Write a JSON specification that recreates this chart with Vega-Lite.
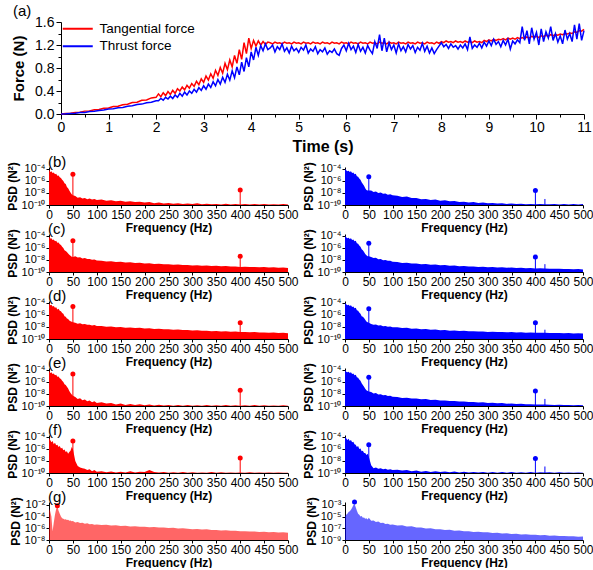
{
"$schema":"https://vega.github.io/schema/vega-lite/v6.json",
"padding":{"left":6,"top":4,"right":0,"bottom":0},
"config":{"view":{"stroke":null},"font":"Liberation Sans",
 "axis":{"grid":false,"domainColor":"#000","tickColor":"#000","labelColor":"#000","titleColor":"#000","labelFont":"Liberation Sans","titleFont":"Liberation Sans","labelFontSize":12,"titleFontSize":12,"titleFontWeight":"bold","tickSize":3,"labelPadding":1,"titlePadding":2,"labelFlush":false,"labelOverlap":false},
 "title":{"font":"Liberation Sans","fontSize":15,"fontWeight":"normal","anchor":"start","frame":"group","color":"#000"}},
"datasets":{
"force":[
{"t":0,"tan":0,"thr":0},{"t":0.1,"tan":0.01,"thr":0.004},{"t":0.2,"tan":0.012,"thr":0.01},{"t":0.3,"tan":0.028,"thr":0.012},{"t":0.4,"tan":0.03,"thr":0.024},{"t":0.5,"tan":0.05,"thr":0.028},{"t":0.6,"tan":0.052,"thr":0.042},{"t":0.7,"tan":0.074,"thr":0.046},{"t":0.8,"tan":0.078,"thr":0.062},{"t":0.9,"tan":0.1,"thr":0.068},{"t":1.0,"tan":0.104,"thr":0.086},{"t":1.1,"tan":0.13,"thr":0.09},{"t":1.2,"tan":0.135,"thr":0.11},{"t":1.3,"tan":0.162,"thr":0.115},{"t":1.4,"tan":0.17,"thr":0.135},{"t":1.5,"tan":0.2,"thr":0.142},{"t":1.6,"tan":0.205,"thr":0.165},{"t":1.7,"tan":0.238,"thr":0.172},{"t":1.8,"tan":0.245,"thr":0.196},{"t":1.9,"tan":0.28,"thr":0.205},{"t":2.0,"tan":0.29,"thr":0.23},
{"t":2.05,"tan":0.35,"thr":0.23},{"t":2.1,"tan":0.3,"thr":0.27},{"t":2.15,"tan":0.37,"thr":0.24},{"t":2.2,"tan":0.32,"thr":0.29},{"t":2.25,"tan":0.39,"thr":0.26},{"t":2.3,"tan":0.34,"thr":0.31},{"t":2.35,"tan":0.41,"thr":0.27},{"t":2.4,"tan":0.36,"thr":0.33},{"t":2.45,"tan":0.44,"thr":0.29},{"t":2.5,"tan":0.4,"thr":0.36},{"t":2.55,"tan":0.47,"thr":0.31},{"t":2.6,"tan":0.42,"thr":0.38},{"t":2.65,"tan":0.5,"thr":0.33},{"t":2.7,"tan":0.45,"thr":0.4},{"t":2.75,"tan":0.53,"thr":0.36},{"t":2.8,"tan":0.48,"thr":0.43},{"t":2.85,"tan":0.57,"thr":0.38},{"t":2.9,"tan":0.51,"thr":0.46},{"t":2.95,"tan":0.61,"thr":0.41},{"t":3.0,"tan":0.55,"thr":0.49},
{"t":3.05,"tan":0.66,"thr":0.43},{"t":3.1,"tan":0.59,"thr":0.52},{"t":3.15,"tan":0.7,"thr":0.46},{"t":3.2,"tan":0.62,"thr":0.56},{"t":3.25,"tan":0.76,"thr":0.49},{"t":3.3,"tan":0.67,"thr":0.6},{"t":3.35,"tan":0.81,"thr":0.52},{"t":3.4,"tan":0.71,"thr":0.64},{"t":3.45,"tan":0.88,"thr":0.55},{"t":3.5,"tan":0.77,"thr":0.69},{"t":3.55,"tan":0.94,"thr":0.59},{"t":3.6,"tan":0.82,"thr":0.75},{"t":3.65,"tan":1.02,"thr":0.63},{"t":3.7,"tan":0.88,"thr":0.82},{"t":3.75,"tan":1.12,"thr":0.68},{"t":3.8,"tan":0.95,"thr":0.9},{"t":3.85,"tan":1.24,"thr":0.74},{"t":3.9,"tan":1.05,"thr":0.98},{"t":3.95,"tan":1.32,"thr":0.82},{"t":4.0,"tan":1.14,"thr":1.08},
{"t":4.05,"tan":1.28,"thr":0.94},{"t":4.1,"tan":1.18,"thr":1.16},{"t":4.15,"tan":1.27,"thr":1.02},{"t":4.2,"tan":1.2,"thr":1.19},{"t":4.25,"tan":1.26,"thr":1.1},{"t":4.3,"tan":1.21,"thr":1.22},{"t":4.35,"tan":1.25,"thr":1.12},
{"t":4.4,"tan":1.24,"thr":1.15},{"t":4.45,"tan":1.22,"thr":1.2},{"t":4.5,"tan":1.25,"thr":1.08},{"t":4.55,"tan":1.23,"thr":1.17},{"t":4.6,"tan":1.24,"thr":1.12},{"t":4.65,"tan":1.22,"thr":1.22},{"t":4.7,"tan":1.25,"thr":1.09},{"t":4.75,"tan":1.23,"thr":1.15},{"t":4.8,"tan":1.24,"thr":1.06},{"t":4.85,"tan":1.22,"thr":1.18},{"t":4.9,"tan":1.25,"thr":1.1},{"t":4.95,"tan":1.23,"thr":1.14},
{"t":5.0,"tan":1.24,"thr":1.07},{"t":5.05,"tan":1.22,"thr":1.16},{"t":5.1,"tan":1.25,"thr":1.11},{"t":5.15,"tan":1.23,"thr":1.2},{"t":5.2,"tan":1.24,"thr":1.06},{"t":5.25,"tan":1.22,"thr":1.13},{"t":5.3,"tan":1.25,"thr":1.09},{"t":5.35,"tan":1.23,"thr":1.17},{"t":5.4,"tan":1.24,"thr":1.05},{"t":5.45,"tan":1.22,"thr":1.12},{"t":5.5,"tan":1.25,"thr":1.08},{"t":5.55,"tan":1.23,"thr":1.15},{"t":5.6,"tan":1.24,"thr":1.04},{"t":5.65,"tan":1.22,"thr":1.1},{"t":5.7,"tan":1.25,"thr":1.07},{"t":5.75,"tan":1.23,"thr":1.13},{"t":5.8,"tan":1.24,"thr":1.05},{"t":5.85,"tan":1.22,"thr":1.02},{"t":5.9,"tan":1.25,"thr":1.14},{"t":5.95,"tan":1.23,"thr":1.2},
{"t":6.0,"tan":1.24,"thr":1.1},{"t":6.05,"tan":1.22,"thr":1.23},{"t":6.1,"tan":1.25,"thr":1.12},{"t":6.15,"tan":1.23,"thr":1.18},{"t":6.2,"tan":1.24,"thr":1.07},{"t":6.25,"tan":1.22,"thr":1.21},{"t":6.3,"tan":1.25,"thr":1.09},{"t":6.35,"tan":1.23,"thr":1.16},{"t":6.4,"tan":1.24,"thr":1.06},{"t":6.45,"tan":1.22,"thr":1.19},{"t":6.5,"tan":1.25,"thr":1.11},{"t":6.55,"tan":1.23,"thr":1.05},{"t":6.6,"tan":1.24,"thr":1.26},{"t":6.65,"tan":1.22,"thr":1.14},{"t":6.7,"tan":1.25,"thr":1.38},{"t":6.75,"tan":1.23,"thr":1.1},{"t":6.8,"tan":1.24,"thr":1.32},{"t":6.85,"tan":1.22,"thr":1.08},{"t":6.9,"tan":1.25,"thr":1.24},{"t":6.95,"tan":1.23,"thr":1.12},
{"t":7.0,"tan":1.24,"thr":1.2},{"t":7.05,"tan":1.22,"thr":1.06},{"t":7.1,"tan":1.25,"thr":1.22},{"t":7.15,"tan":1.23,"thr":1.1},{"t":7.2,"tan":1.24,"thr":1.17},{"t":7.25,"tan":1.22,"thr":1.08},{"t":7.3,"tan":1.25,"thr":1.21},{"t":7.35,"tan":1.23,"thr":1.13},{"t":7.4,"tan":1.24,"thr":1.19},{"t":7.45,"tan":1.22,"thr":1.07},{"t":7.5,"tan":1.25,"thr":1.16},{"t":7.55,"tan":1.23,"thr":1.11},{"t":7.6,"tan":1.24,"thr":1.23},{"t":7.65,"tan":1.22,"thr":1.09},{"t":7.7,"tan":1.25,"thr":1.18},{"t":7.75,"tan":1.23,"thr":1.06},{"t":7.8,"tan":1.24,"thr":1.15},{"t":7.85,"tan":1.22,"thr":1.05},{"t":7.9,"tan":1.25,"thr":1.12},{"t":7.95,"tan":1.23,"thr":1.18},
{"t":8.0,"tan":1.26,"thr":1.24},{"t":8.05,"tan":1.24,"thr":1.17},{"t":8.1,"tan":1.27,"thr":1.21},{"t":8.15,"tan":1.25,"thr":1.14},{"t":8.2,"tan":1.26,"thr":1.22},{"t":8.25,"tan":1.24,"thr":1.16},{"t":8.3,"tan":1.27,"thr":1.19},{"t":8.35,"tan":1.25,"thr":1.13},{"t":8.4,"tan":1.26,"thr":1.2},{"t":8.45,"tan":1.24,"thr":1.15},{"t":8.5,"tan":1.27,"thr":1.22},{"t":8.55,"tan":1.25,"thr":1.12},{"t":8.6,"tan":1.26,"thr":1.34},{"t":8.65,"tan":1.24,"thr":1.14},{"t":8.7,"tan":1.27,"thr":1.2},{"t":8.75,"tan":1.25,"thr":1.16},{"t":8.8,"tan":1.26,"thr":1.23},{"t":8.85,"tan":1.24,"thr":1.15},{"t":8.9,"tan":1.28,"thr":1.25},{"t":8.95,"tan":1.26,"thr":1.18},
{"t":9.0,"tan":1.29,"thr":1.27},{"t":9.05,"tan":1.27,"thr":1.19},{"t":9.1,"tan":1.3,"thr":1.3},{"t":9.15,"tan":1.28,"thr":1.21},{"t":9.2,"tan":1.3,"thr":1.26},{"t":9.25,"tan":1.29,"thr":1.17},{"t":9.3,"tan":1.31,"thr":1.28},{"t":9.35,"tan":1.29,"thr":1.2},{"t":9.4,"tan":1.32,"thr":1.3},{"t":9.45,"tan":1.3,"thr":1.13},{"t":9.5,"tan":1.32,"thr":1.27},{"t":9.55,"tan":1.3,"thr":1.22},{"t":9.6,"tan":1.33,"thr":1.29},{"t":9.65,"tan":1.31,"thr":1.24},{"t":9.7,"tan":1.33,"thr":1.52},{"t":9.75,"tan":1.31,"thr":1.28},{"t":9.8,"tan":1.34,"thr":1.45},{"t":9.85,"tan":1.32,"thr":1.22},{"t":9.9,"tan":1.35,"thr":1.5},{"t":9.95,"tan":1.33,"thr":1.3},
{"t":10.0,"tan":1.35,"thr":1.42},{"t":10.05,"tan":1.33,"thr":1.2},{"t":10.1,"tan":1.36,"thr":1.48},{"t":10.15,"tan":1.35,"thr":1.26},{"t":10.2,"tan":1.37,"thr":1.43},{"t":10.25,"tan":1.35,"thr":1.32},{"t":10.3,"tan":1.38,"thr":1.52},{"t":10.35,"tan":1.36,"thr":1.28},{"t":10.4,"tan":1.38,"thr":1.4},{"t":10.45,"tan":1.37,"thr":1.25},{"t":10.5,"tan":1.39,"thr":1.36},{"t":10.55,"tan":1.38,"thr":1.22},{"t":10.6,"tan":1.4,"thr":1.46},{"t":10.65,"tan":1.39,"thr":1.3},{"t":10.7,"tan":1.41,"thr":1.4},{"t":10.75,"tan":1.4,"thr":1.26},{"t":10.8,"tan":1.43,"thr":1.55},{"t":10.85,"tan":1.42,"thr":1.3},{"t":10.9,"tan":1.45,"thr":1.57},{"t":10.95,"tan":1.44,"thr":1.28},{"t":11.0,"tan":1.47,"thr":1.45}
],
"psd":[
{"f":0,"bL":8e-5,"bR":1e-4,"cL":8e-5,"cR":1e-4,"dL":1e-4,"dR":1e-4,"eL":8e-5,"eR":1e-4,"fL":6e-5,"fR":1e-4,"gL":2e-3,"gR":1e-5},
{"f":2.5,"bL":3e-5,"bR":6e-5,"cL":3.5e-5,"cR":6e-5,"dL":4e-5,"dR":6e-5,"eL":3e-5,"eR":5e-5,"fL":3e-5,"fR":6e-5,"gL":8e-4,"gR":2e-5},
{"f":5,"bL":4e-5,"bR":4e-5,"cL":4e-5,"cR":4e-5,"dL":5e-5,"dR":4e-5,"eL":4e-5,"eR":4e-5,"fL":1.2e-5,"fR":3e-5,"gL":1e-4,"gR":3e-5},
{"f":7.5,"bL":2e-5,"bR":5e-5,"cL":2e-5,"cR":5e-5,"dL":2.5e-5,"dR":5e-5,"eL":2e-5,"eR":5e-5,"fL":2e-5,"fR":5e-5,"gL":3e-7,"gR":6e-5},
{"f":10,"bL":2.5e-5,"bR":3e-5,"cL":2.5e-5,"cR":3e-5,"dL":3e-5,"dR":3e-5,"eL":2.5e-5,"eR":3e-5,"fL":6e-6,"fR":2e-5,"gL":1e-5,"gR":8e-5},
{"f":12.5,"bL":1.2e-5,"bR":4e-5,"cL":1.2e-5,"cR":4e-5,"dL":1.5e-5,"dR":4e-5,"eL":1.2e-5,"eR":4e-5,"fL":1e-5,"fR":3e-5,"gL":2e-4,"gR":1.5e-4},
{"f":15,"bL":1.5e-5,"bR":2e-5,"cL":1.5e-5,"cR":2e-5,"dL":1.8e-5,"dR":2e-5,"eL":1.5e-5,"eR":2e-5,"fL":4e-6,"fR":1.2e-5,"gL":2e-3,"gR":3e-4},
{"f":17.5,"bL":7e-6,"bR":2.5e-5,"cL":7e-6,"cR":2.5e-5,"dL":8e-6,"dR":2.5e-5,"eL":7e-6,"eR":2.5e-5,"fL":5e-6,"fR":1.5e-5,"gL":6e-3,"gR":8e-4},
{"f":20,"bL":8e-6,"bR":1.2e-5,"cL":8e-6,"cR":1.2e-5,"dL":1e-5,"dR":1.2e-5,"eL":8e-6,"eR":1.2e-5,"fL":2e-6,"fR":6e-6,"gL":1e-3,"gR":1.5e-3},
{"f":22.5,"bL":4e-6,"bR":1.5e-5,"cL":4e-6,"cR":1.5e-5,"dL":5e-6,"dR":1.5e-5,"eL":4e-6,"eR":1.5e-5,"fL":3e-6,"fR":5e-6,"gL":3e-4,"gR":4e-4},
{"f":25,"bL":3e-6,"bR":6e-6,"cL":3e-6,"cR":6e-6,"dL":4e-6,"dR":6e-6,"eL":3e-6,"eR":6e-6,"fL":1.2e-6,"fR":2e-6,"gL":1e-4,"gR":1e-4},
{"f":27.5,"bL":1.5e-6,"bR":5e-6,"cL":1.5e-6,"cR":5e-6,"dL":2e-6,"dR":5e-6,"eL":1.5e-6,"eR":5e-6,"fL":1.5e-6,"fR":3e-6,"gL":5e-5,"gR":3e-5},
{"f":30,"bL":1e-6,"bR":2.5e-6,"cL":1e-6,"cR":2.5e-6,"dL":1.5e-6,"dR":2.5e-6,"eL":1e-6,"eR":2.5e-6,"fL":6e-7,"fR":1e-6,"gL":4e-5,"gR":2e-5},
{"f":32.5,"bL":4e-7,"bR":1.5e-6,"cL":4e-7,"cR":1.5e-6,"dL":6e-7,"dR":1.5e-6,"eL":4e-7,"eR":1.5e-6,"fL":8e-7,"fR":1.2e-6,"gL":3e-5,"gR":1e-5},
{"f":35,"bL":3e-7,"bR":6e-7,"cL":3e-7,"cR":6e-7,"dL":5e-7,"dR":6e-7,"eL":3e-7,"eR":6e-7,"fL":3e-7,"fR":4e-7,"gL":3.5e-5,"gR":1.2e-5},
{"f":37.5,"bL":1e-7,"bR":3e-7,"cL":2e-7,"cR":4e-7,"dL":2.5e-7,"dR":5e-7,"eL":1.5e-7,"eR":3e-7,"fL":4e-7,"fR":5e-7,"gL":2.5e-5,"gR":6e-6},
{"f":40,"bL":6e-8,"bR":1.5e-7,"cL":1.2e-7,"cR":2e-7,"dL":2e-7,"dR":3e-7,"eL":8e-8,"eR":1.5e-7,"fL":1.5e-7,"fR":2e-7,"gL":2.8e-5,"gR":7e-6},
{"f":42.5,"bL":2.5e-8,"bR":6e-8,"cL":7e-8,"cR":1e-7,"dL":1.2e-7,"dR":1.5e-7,"eL":3e-8,"eR":7e-8,"fL":3e-7,"fR":2e-7,"gL":2e-5,"gR":4e-6},
{"f":45,"bL":1.2e-8,"bR":3e-8,"cL":5e-8,"cR":6e-8,"dL":9e-8,"dR":8e-8,"eL":1.5e-8,"eR":4e-8,"fL":5e-7,"fR":1e-7,"gL":2.2e-5,"gR":5e-6},
{"f":47.5,"bL":6e-9,"bR":2.5e-8,"cL":3.5e-8,"cR":4e-8,"dL":7e-8,"dR":6e-8,"eL":8e-9,"eR":3e-8,"fL":2e-6,"fR":1.5e-7,"gL":1.5e-5,"gR":3e-6},
{"f":50,"bL":4e-9,"bR":2.5e-8,"cL":3e-8,"cR":4e-8,"dL":6e-8,"dR":5e-8,"eL":5e-9,"eR":2.5e-8,"fL":1e-6,"fR":5e-8,"gL":1.8e-5,"gR":6e-6},
{"f":55,"bL":3e-9,"bR":2.5e-8,"cL":4e-8,"cR":3e-8,"dL":5e-8,"dR":3e-8,"eL":3e-9,"eR":2e-8,"fL":1e-8,"fR":2e-9,"gL":1e-5,"gR":2e-6},
{"f":60,"bL":1.6e-9,"bR":1.5e-8,"cL":2.5e-8,"cR":2e-8,"dL":3.5e-8,"dR":2.2e-8,"eL":1.5e-9,"eR":1.2e-8,"fL":1.5e-9,"fR":6e-10,"gL":1.2e-5,"gR":2.2e-6},
{"f":65,"bL":2e-9,"bR":1.8e-8,"cL":2.8e-8,"cR":2.2e-8,"dL":4e-8,"dR":2.5e-8,"eL":2e-9,"eR":1.4e-8,"fL":8e-10,"fR":8e-10,"gL":8e-6,"gR":1.2e-6},
{"f":70,"bL":1.2e-9,"bR":1e-8,"cL":1.8e-8,"cR":1.3e-8,"dL":2.8e-8,"dR":1.7e-8,"eL":9e-10,"eR":8e-9,"fL":6e-10,"fR":5e-10,"gL":9e-6,"gR":1.4e-6},
{"f":75,"bL":1.5e-9,"bR":1.2e-8,"cL":2e-8,"cR":1.5e-8,"dL":3e-8,"dR":1.9e-8,"eL":1.2e-9,"eR":9e-9,"fL":5e-10,"fR":6e-10,"gL":6e-6,"gR":8e-7},
{"f":80,"bL":9e-10,"bR":7e-9,"cL":1.4e-8,"cR":9e-9,"dL":2.2e-8,"dR":1.3e-8,"eL":6e-10,"eR":6e-9,"fL":3e-10,"fR":4e-10,"gL":7e-6,"gR":9e-7},
{"f":85,"bL":1.2e-9,"bR":8e-9,"cL":1.5e-8,"cR":1e-8,"dL":2.4e-8,"dR":1.5e-8,"eL":8e-10,"eR":6.5e-9,"fL":4e-10,"fR":5e-10,"gL":5e-6,"gR":5.5e-7},
{"f":90,"bL":8e-10,"bR":5e-9,"cL":1.1e-8,"cR":7e-9,"dL":1.8e-8,"dR":1.1e-8,"eL":4e-10,"eR":4.5e-9,"fL":2e-10,"fR":3.5e-10,"gL":5.5e-6,"gR":6e-7},
{"f":95,"bL":1e-9,"bR":6e-9,"cL":1.2e-8,"cR":7.5e-9,"dL":2e-8,"dR":1.2e-8,"eL":6e-10,"eR":5e-9,"fL":3e-10,"fR":4e-10,"gL":4e-6,"gR":4e-7},
{"f":100,"bL":7e-10,"bR":4e-9,"cL":8e-9,"cR":5e-9,"dL":1.5e-8,"dR":9e-9,"eL":3e-10,"eR":3.5e-9,"fL":1.6e-10,"fR":3e-10,"gL":4.5e-6,"gR":4.5e-7},
{"f":110,"bL":8e-10,"bR":3.5e-9,"cL":7e-9,"cR":4.5e-9,"dL":1.4e-8,"dR":8.5e-9,"eL":4e-10,"eR":3e-9,"fL":2e-10,"fR":3.5e-10,"gL":3.5e-6,"gR":3e-7},
{"f":120,"bL":5e-10,"bR":2.2e-9,"cL":5.5e-9,"cR":3.2e-9,"dL":1.1e-8,"dR":6.5e-9,"eL":2.5e-10,"eR":2.2e-9,"fL":1.3e-10,"fR":2.5e-10,"gL":3.8e-6,"gR":3.2e-7},
{"f":130,"bL":6e-10,"bR":2.5e-9,"cL":6e-9,"cR":3.5e-9,"dL":1.2e-8,"dR":7e-9,"eL":3e-10,"eR":2.4e-9,"fL":1.8e-10,"fR":3e-10,"gL":3e-6,"gR":2e-7},
{"f":140,"bL":4e-10,"bR":1.4e-9,"cL":4.5e-9,"cR":2.5e-9,"dL":9e-9,"dR":5e-9,"eL":1.8e-10,"eR":1.7e-9,"fL":1.2e-10,"fR":2e-10,"gL":3.2e-6,"gR":2.2e-7},
{"f":150,"bL":5e-10,"bR":1.5e-9,"cL":4.8e-9,"cR":2.6e-9,"dL":9.5e-9,"dR":5.5e-9,"eL":2.5e-10,"eR":1.8e-9,"fL":1.6e-10,"fR":2.5e-10,"gL":2.5e-6,"gR":1.3e-7},
{"f":160,"bL":3.5e-10,"bR":9e-10,"cL":3.8e-9,"cR":2e-9,"dL":7.5e-9,"dR":4e-9,"eL":1.5e-10,"eR":1.3e-9,"fL":1.2e-10,"fR":1.6e-10,"gL":2.7e-6,"gR":1.4e-7},
{"f":170,"bL":4e-10,"bR":1e-9,"cL":4e-9,"cR":2.1e-9,"dL":8e-9,"dR":4.5e-9,"eL":2.2e-10,"eR":1.4e-9,"fL":2e-10,"fR":2.2e-10,"gL":2.1e-6,"gR":9e-8},
{"f":180,"bL":3e-10,"bR":7e-10,"cL":3.2e-9,"cR":1.6e-9,"dL":6.5e-9,"dR":3.4e-9,"eL":1.4e-10,"eR":1e-9,"fL":1.2e-10,"fR":1.5e-10,"gL":2.3e-6,"gR":1e-7},
{"f":190,"bL":3.5e-10,"bR":8e-10,"cL":3.4e-9,"cR":1.7e-9,"dL":7e-9,"dR":3.7e-9,"eL":2e-10,"eR":1.1e-9,"fL":1.6e-10,"fR":2e-10,"gL":1.8e-6,"gR":6.5e-8},
{"f":200,"bL":2.5e-10,"bR":5e-10,"cL":2.6e-9,"cR":1.3e-9,"dL":5.5e-9,"dR":2.8e-9,"eL":1.3e-10,"eR":8e-10,"fL":1.4e-10,"fR":1.4e-10,"gL":1.9e-6,"gR":7e-8},
{"f":210,"bL":3e-10,"bR":6e-10,"cL":2.8e-9,"cR":1.4e-9,"dL":5.8e-9,"dR":3e-9,"eL":1.8e-10,"eR":8.5e-10,"fL":3e-10,"fR":1.8e-10,"gL":1.5e-6,"gR":5e-8},
{"f":220,"bL":2e-10,"bR":4e-10,"cL":2.2e-9,"cR":1.1e-9,"dL":4.6e-9,"dR":2.4e-9,"eL":1.2e-10,"eR":6.5e-10,"fL":1.5e-10,"fR":1.3e-10,"gL":1.6e-6,"gR":5.5e-8},
{"f":230,"bL":2.5e-10,"bR":4.5e-10,"cL":2.4e-9,"cR":1.2e-9,"dL":4.9e-9,"dR":2.6e-9,"eL":1.6e-10,"eR":7e-10,"fL":1.2e-10,"fR":1.7e-10,"gL":1.3e-6,"gR":3.8e-8},
{"f":240,"bL":1.8e-10,"bR":3.2e-10,"cL":1.9e-9,"cR":9e-10,"dL":4e-9,"dR":2.1e-9,"eL":1.2e-10,"eR":5.5e-10,"fL":1.4e-10,"fR":1.2e-10,"gL":1.4e-6,"gR":4.2e-8},
{"f":250,"bL":2.2e-10,"bR":3.5e-10,"cL":2e-9,"cR":1e-9,"dL":4.2e-9,"dR":2.3e-9,"eL":1.5e-10,"eR":5.8e-10,"fL":1.1e-10,"fR":1.6e-10,"gL":1.1e-6,"gR":3e-8},
{"f":260,"bL":1.6e-10,"bR":2.6e-10,"cL":1.6e-9,"cR":8e-10,"dL":3.4e-9,"dR":1.9e-9,"eL":1.1e-10,"eR":4.5e-10,"fL":1.3e-10,"fR":1.2e-10,"gL":1.2e-6,"gR":3.2e-8},
{"f":270,"bL":2e-10,"bR":3e-10,"cL":1.7e-9,"cR":8.5e-10,"dL":3.6e-9,"dR":2e-9,"eL":1.4e-10,"eR":4.8e-10,"fL":1.1e-10,"fR":1.5e-10,"gL":9.5e-7,"gR":2.4e-8},
{"f":280,"bL":1.5e-10,"bR":2.2e-10,"cL":1.4e-9,"cR":7e-10,"dL":3e-9,"dR":1.7e-9,"eL":1.1e-10,"eR":3.8e-10,"fL":1.4e-10,"fR":1.2e-10,"gL":1e-6,"gR":2.6e-8},
{"f":290,"bL":1.8e-10,"bR":2.5e-10,"cL":1.5e-9,"cR":7.5e-10,"dL":3.2e-9,"dR":1.8e-9,"eL":1.5e-10,"eR":4e-10,"fL":1.1e-10,"fR":1.5e-10,"gL":8e-7,"gR":2e-8},
{"f":300,"bL":1.4e-10,"bR":1.9e-10,"cL":1.2e-9,"cR":6e-10,"dL":2.6e-9,"dR":1.5e-9,"eL":1.1e-10,"eR":3.2e-10,"fL":1.3e-10,"fR":1.1e-10,"gL":7e-7,"gR":2.1e-8},
{"f":310,"bL":2e-10,"bR":2.2e-10,"cL":1.3e-9,"cR":6.5e-10,"dL":2.8e-9,"dR":1.6e-9,"eL":1.3e-10,"eR":3.5e-10,"fL":1.1e-10,"fR":1.4e-10,"gL":7.5e-7,"gR":1.6e-8},
{"f":320,"bL":1.3e-10,"bR":1.7e-10,"cL":1.1e-9,"cR":5.5e-10,"dL":2.3e-9,"dR":1.4e-9,"eL":1.1e-10,"eR":2.8e-10,"fL":1.2e-10,"fR":1.1e-10,"gL":6e-7,"gR":1.7e-8},
{"f":330,"bL":1.6e-10,"bR":1.9e-10,"cL":1.2e-9,"cR":6e-10,"dL":2.4e-9,"dR":1.5e-9,"eL":1.4e-10,"eR":3e-10,"fL":1.1e-10,"fR":1.5e-10,"gL":6.5e-7,"gR":1.3e-8},
{"f":340,"bL":1.3e-10,"bR":1.5e-10,"cL":1e-9,"cR":5e-10,"dL":2e-9,"dR":1.3e-9,"eL":1.1e-10,"eR":2.4e-10,"fL":1.4e-10,"fR":1.1e-10,"gL":5e-7,"gR":1.4e-8},
{"f":350,"bL":1.5e-10,"bR":1.8e-10,"cL":1.05e-9,"cR":5.5e-10,"dL":2.1e-9,"dR":1.4e-9,"eL":1.3e-10,"eR":2.6e-10,"fL":1.1e-10,"fR":1.4e-10,"gL":5.2e-7,"gR":1.1e-8},
{"f":360,"bL":1.2e-10,"bR":1.4e-10,"cL":9e-10,"cR":4.5e-10,"dL":1.8e-9,"dR":1.2e-9,"eL":1.1e-10,"eR":2.1e-10,"fL":1.3e-10,"fR":1.1e-10,"gL":4.2e-7,"gR":1.2e-8},
{"f":370,"bL":1.6e-10,"bR":1.6e-10,"cL":9.5e-10,"cR":5e-10,"dL":1.9e-9,"dR":1.3e-9,"eL":1.4e-10,"eR":2.3e-10,"fL":1.1e-10,"fR":1.3e-10,"gL":4.4e-7,"gR":9e-9},
{"f":380,"bL":1.2e-10,"bR":1.3e-10,"cL":8e-10,"cR":4e-10,"dL":1.6e-9,"dR":1.1e-9,"eL":1.1e-10,"eR":1.9e-10,"fL":1.2e-10,"fR":1.1e-10,"gL":3.6e-7,"gR":1e-8},
{"f":390,"bL":1.4e-10,"bR":1.5e-10,"cL":8.5e-10,"cR":4.5e-10,"dL":1.7e-9,"dR":1.2e-9,"eL":1.3e-10,"eR":2e-10,"fL":1.1e-10,"fR":1.4e-10,"gL":3.8e-7,"gR":7.5e-9},
{"f":400,"bL":1.2e-10,"bR":1.3e-10,"cL":7e-10,"cR":3.8e-10,"dL":1.45e-9,"dR":1.1e-9,"eL":1.1e-10,"eR":1.7e-10,"fL":1.2e-10,"fR":1.1e-10,"gL":3e-7,"gR":8e-9},
{"f":410,"bL":1.4e-10,"bR":1.4e-10,"cL":7.5e-10,"cR":4e-10,"dL":1.5e-9,"dR":1.1e-9,"eL":1.3e-10,"eR":1.8e-10,"fL":1.1e-10,"fR":1.3e-10,"gL":3.2e-7,"gR":6.5e-9},
{"f":420,"bL":1.2e-10,"bR":1.3e-10,"cL":6.5e-10,"cR":3.7e-10,"dL":1.3e-9,"dR":1.05e-9,"eL":1.1e-10,"eR":1.7e-10,"fL":1.3e-10,"fR":1.2e-10,"gL":2.7e-7,"gR":7e-9},
{"f":430,"bL":1.5e-10,"bR":1.3e-10,"cL":7e-10,"cR":3.6e-10,"dL":1.4e-9,"dR":1e-9,"eL":1.4e-10,"eR":1.6e-10,"fL":1.1e-10,"fR":1.3e-10,"gL":2.9e-7,"gR":5.5e-9},
{"f":440,"bL":1.2e-10,"bR":1.4e-10,"cL":6e-10,"cR":3.4e-10,"dL":1.2e-9,"dR":1e-9,"eL":1.1e-10,"eR":1.5e-10,"fL":1.2e-10,"fR":1.1e-10,"gL":2.4e-7,"gR":6e-9},
{"f":450,"bL":1.4e-10,"bR":1.2e-10,"cL":6.5e-10,"cR":3.5e-10,"dL":1.25e-9,"dR":9.5e-10,"eL":1.3e-10,"eR":1.6e-10,"fL":1.1e-10,"fR":1.3e-10,"gL":2.5e-7,"gR":4.8e-9},
{"f":460,"bL":1.2e-10,"bR":1.4e-10,"cL":5.5e-10,"cR":3e-10,"dL":1.1e-9,"dR":9e-10,"eL":1.1e-10,"eR":1.4e-10,"fL":1.2e-10,"fR":1.1e-10,"gL":2.1e-7,"gR":5e-9},
{"f":470,"bL":1.3e-10,"bR":1.2e-10,"cL":6e-10,"cR":3.2e-10,"dL":1.15e-9,"dR":9.5e-10,"eL":1.2e-10,"eR":1.5e-10,"fL":1.1e-10,"fR":1.2e-10,"gL":2.2e-7,"gR":4.2e-9},
{"f":480,"bL":1.2e-10,"bR":1.4e-10,"cL":5e-10,"cR":2.8e-10,"dL":1e-9,"dR":8.5e-10,"eL":1.1e-10,"eR":1.3e-10,"fL":1.2e-10,"fR":1.1e-10,"gL":1.9e-7,"gR":4.5e-9},
{"f":490,"bL":1.4e-10,"bR":1.2e-10,"cL":5.5e-10,"cR":3e-10,"dL":1.05e-9,"dR":9e-10,"eL":1.3e-10,"eR":1.4e-10,"fL":1.1e-10,"fR":1.2e-10,"gL":2e-7,"gR":3.6e-9},
{"f":500,"bL":1.2e-10,"bR":1.4e-10,"cL":4.5e-10,"cR":2.6e-10,"dL":9e-10,"dR":8e-10,"eL":1.1e-10,"eR":1.3e-10,"fL":1.1e-10,"fR":1.1e-10,"gL":1.8e-7,"gR":4e-9}
],
"pk":[
{"p":"bL","f":50,"v":1.2e-5,"s":0},{"p":"bL","f":400,"v":3e-8,"s":0},
{"p":"bR","f":50,"v":5e-6,"s":0},{"p":"bR","f":400,"v":2.5e-8,"s":0},{"p":"bR","f":420,"v":1e-9,"s":1},
{"p":"cL","f":50,"v":1.5e-5,"s":0},{"p":"cL","f":400,"v":4e-8,"s":0},
{"p":"cR","f":50,"v":6e-6,"s":0},{"p":"cR","f":400,"v":3e-8,"s":0},{"p":"cR","f":420,"v":2e-9,"s":1},
{"p":"dL","f":50,"v":2.5e-5,"s":0},{"p":"dL","f":400,"v":5e-8,"s":0},
{"p":"dR","f":50,"v":1e-5,"s":0},{"p":"dR","f":400,"v":5e-8,"s":0},{"p":"dR","f":420,"v":3.5e-9,"s":1},
{"p":"eL","f":50,"v":2e-5,"s":0},{"p":"eL","f":400,"v":4e-8,"s":0},
{"p":"eR","f":50,"v":6e-6,"s":0},{"p":"eR","f":400,"v":3e-8,"s":0},{"p":"eR","f":420,"v":1.5e-9,"s":1},
{"p":"fL","f":50,"v":2e-5,"s":0},{"p":"fL","f":400,"v":3e-8,"s":0},
{"p":"fR","f":50,"v":5e-6,"s":0},{"p":"fR","f":400,"v":2.5e-8,"s":0},{"p":"fR","f":420,"v":1.2e-9,"s":1},
{"p":"gL","f":17.5,"v":7e-3,"s":0},
{"p":"gR","f":20,"v":3e-3,"s":0}
]},
"spacing":0,
"vconcat":[
{"hconcat":[
 {"width":1,"height":1,"data":{"values":[{"a":0}]},"mark":{"type":"point","opacity":0},"encoding":{}},
 {"width":523,"height":92,
 "title":{"text":"(a)","dx":-48,"offset":-4},
 "data":{"name":"force"},
 "transform":[{"fold":["tan","thr"],"as":["k","F"]}],
 "mark":{"type":"line","strokeWidth":1.5},
 "encoding":{
  "x":{"field":"t","type":"quantitative","scale":{"domain":[0,11]},"axis":{"values":[0,0.5,1,1.5,2,2.5,3,3.5,4,4.5,5,5.5,6,6.5,7,7.5,8,8.5,9,9.5,10,10.5,11],"labelExpr":"datum.value % 1 == 0 ? format(datum.value, 'd') : ''","tickSize":{"condition":{"test":"datum.value % 1 != 0","value":3},"value":5},"title":"Time (s)","titleFontSize":16,"labelFontSize":14,"labelPadding":1,"titlePadding":4}},
  "y":{"field":"F","type":"quantitative","scale":{"domain":[0,1.6]},"axis":{"values":[0,0.2,0.4,0.6,0.8,1,1.2,1.4,1.6],"labelExpr":"round(datum.value*10) % 4 == 0 ? format(datum.value, '.1f') : ''","tickSize":{"condition":{"test":"round(datum.value*10) % 4 != 0","value":3},"value":5},"title":"Force (N)","titleFontSize":15,"labelFontSize":14,"labelPadding":2,"titlePadding":8}},
  "color":{"field":"k","type":"nominal","scale":{"domain":["tan","thr"],"range":["#ff0000","#0000ff"]},
   "legend":{"orient":"none","legendX":22,"legendY":0,"title":null,"symbolType":"M-3,0H3","symbolSize":100,"symbolStrokeWidth":2,"labelFontSize":13.5,"labelOffset":15,"rowPadding":2.5,"padding":0,"labelColor":"#000","labelExpr":"datum.label == 'tan' ? 'Tangential force' : 'Thrust force'"}}
 }}],
 "spacing":11,"bounds":"flush"},
{"columns":2,"spacing":{"row":29,"column":57},"bounds":"flush",
 "concat":[
  {"width":239,"height":38,"title":{"text":"(b)","dx":-1,"offset":-8},
   "encoding":{"x":{"field":"f","type":"quantitative","scale":{"domain":[0,500]},"axis":{"values":[0,50,100,150,200,250,300,350,400,450,500],"title":"Frequency (Hz)"}}},
   "layer":[
   {"data":{"name":"psd"},"mark":{"type":"area","color":"#ff0000"},"encoding":{"y":{"field":"bL","type":"quantitative","stack":null,"scale":{"type":"log","domain":[1e-10,2e-4]},"axis":{"values":[1e-10,1e-8,1e-6,1e-4],"labelExpr":"'10' + ['⁰','⁻¹','⁻²','⁻³','⁻⁴','⁻⁵','⁻⁶','⁻⁷','⁻⁸','⁻⁹','⁻¹⁰'][round(-log(datum.value)/LN10)]","title":"PSD (N²)","labelFontSize":11}},"y2":{"datum":1e-10}}},
   {"data":{"name":"pk"},"transform":[{"filter":"datum.p=='bL'"}],"mark":{"type":"rule","color":"#ff0000","strokeWidth":1},"encoding":{"y":{"field":"v","type":"quantitative","scale":{"type":"log","domain":[1e-10,2e-4]},"axis":{"values":[1e-10,1e-8,1e-6,1e-4],"labelExpr":"'10' + ['⁰','⁻¹','⁻²','⁻³','⁻⁴','⁻⁵','⁻⁶','⁻⁷','⁻⁸','⁻⁹','⁻¹⁰'][round(-log(datum.value)/LN10)]","title":"PSD (N²)","labelFontSize":11}},"y2":{"datum":1e-10}}},
   {"data":{"name":"pk"},"transform":[{"filter":"datum.p=='bL' && datum.s==0"}],"mark":{"type":"circle","color":"#ff0000","size":25,"opacity":1},"encoding":{"y":{"field":"v","type":"quantitative","scale":{"type":"log","domain":[1e-10,2e-4]},"axis":{"values":[1e-10,1e-8,1e-6,1e-4],"labelExpr":"'10' + ['⁰','⁻¹','⁻²','⁻³','⁻⁴','⁻⁵','⁻⁶','⁻⁷','⁻⁸','⁻⁹','⁻¹⁰'][round(-log(datum.value)/LN10)]","title":"PSD (N²)","labelFontSize":11}}}}]},
  {"width":238,"height":38,
   "encoding":{"x":{"field":"f","type":"quantitative","scale":{"domain":[0,500]},"axis":{"values":[0,50,100,150,200,250,300,350,400,450,500],"title":"Frequency (Hz)"}}},
   "layer":[
   {"data":{"name":"psd"},"mark":{"type":"area","color":"#0000ff"},"encoding":{"y":{"field":"bR","type":"quantitative","stack":null,"scale":{"type":"log","domain":[1e-10,2e-4]},"axis":{"values":[1e-10,1e-8,1e-6,1e-4],"labelExpr":"'10' + ['⁰','⁻¹','⁻²','⁻³','⁻⁴','⁻⁵','⁻⁶','⁻⁷','⁻⁸','⁻⁹','⁻¹⁰'][round(-log(datum.value)/LN10)]","title":"PSD (N²)","labelFontSize":11}},"y2":{"datum":1e-10}}},
   {"data":{"name":"pk"},"transform":[{"filter":"datum.p=='bR'"}],"mark":{"type":"rule","color":"#0000ff","strokeWidth":1},"encoding":{"y":{"field":"v","type":"quantitative","scale":{"type":"log","domain":[1e-10,2e-4]},"axis":{"values":[1e-10,1e-8,1e-6,1e-4],"labelExpr":"'10' + ['⁰','⁻¹','⁻²','⁻³','⁻⁴','⁻⁵','⁻⁶','⁻⁷','⁻⁸','⁻⁹','⁻¹⁰'][round(-log(datum.value)/LN10)]","title":"PSD (N²)","labelFontSize":11}},"y2":{"datum":1e-10}}},
   {"data":{"name":"pk"},"transform":[{"filter":"datum.p=='bR' && datum.s==0"}],"mark":{"type":"circle","color":"#0000ff","size":25,"opacity":1},"encoding":{"y":{"field":"v","type":"quantitative","scale":{"type":"log","domain":[1e-10,2e-4]},"axis":{"values":[1e-10,1e-8,1e-6,1e-4],"labelExpr":"'10' + ['⁰','⁻¹','⁻²','⁻³','⁻⁴','⁻⁵','⁻⁶','⁻⁷','⁻⁸','⁻⁹','⁻¹⁰'][round(-log(datum.value)/LN10)]","title":"PSD (N²)","labelFontSize":11}}}}]},
  {"width":239,"height":38,"title":{"text":"(c)","dx":-1,"offset":-8},
   "encoding":{"x":{"field":"f","type":"quantitative","scale":{"domain":[0,500]},"axis":{"values":[0,50,100,150,200,250,300,350,400,450,500],"title":"Frequency (Hz)"}}},
   "layer":[
   {"data":{"name":"psd"},"mark":{"type":"area","color":"#ff0000"},"encoding":{"y":{"field":"cL","type":"quantitative","stack":null,"scale":{"type":"log","domain":[1e-10,2e-4]},"axis":{"values":[1e-10,1e-8,1e-6,1e-4],"labelExpr":"'10' + ['⁰','⁻¹','⁻²','⁻³','⁻⁴','⁻⁵','⁻⁶','⁻⁷','⁻⁸','⁻⁹','⁻¹⁰'][round(-log(datum.value)/LN10)]","title":"PSD (N²)","labelFontSize":11}},"y2":{"datum":1e-10}}},
   {"data":{"name":"pk"},"transform":[{"filter":"datum.p=='cL'"}],"mark":{"type":"rule","color":"#ff0000","strokeWidth":1},"encoding":{"y":{"field":"v","type":"quantitative","scale":{"type":"log","domain":[1e-10,2e-4]},"axis":{"values":[1e-10,1e-8,1e-6,1e-4],"labelExpr":"'10' + ['⁰','⁻¹','⁻²','⁻³','⁻⁴','⁻⁵','⁻⁶','⁻⁷','⁻⁸','⁻⁹','⁻¹⁰'][round(-log(datum.value)/LN10)]","title":"PSD (N²)","labelFontSize":11}},"y2":{"datum":1e-10}}},
   {"data":{"name":"pk"},"transform":[{"filter":"datum.p=='cL' && datum.s==0"}],"mark":{"type":"circle","color":"#ff0000","size":25,"opacity":1},"encoding":{"y":{"field":"v","type":"quantitative","scale":{"type":"log","domain":[1e-10,2e-4]},"axis":{"values":[1e-10,1e-8,1e-6,1e-4],"labelExpr":"'10' + ['⁰','⁻¹','⁻²','⁻³','⁻⁴','⁻⁵','⁻⁶','⁻⁷','⁻⁸','⁻⁹','⁻¹⁰'][round(-log(datum.value)/LN10)]","title":"PSD (N²)","labelFontSize":11}}}}]},
  {"width":238,"height":38,
   "encoding":{"x":{"field":"f","type":"quantitative","scale":{"domain":[0,500]},"axis":{"values":[0,50,100,150,200,250,300,350,400,450,500],"title":"Frequency (Hz)"}}},
   "layer":[
   {"data":{"name":"psd"},"mark":{"type":"area","color":"#0000ff"},"encoding":{"y":{"field":"cR","type":"quantitative","stack":null,"scale":{"type":"log","domain":[1e-10,2e-4]},"axis":{"values":[1e-10,1e-8,1e-6,1e-4],"labelExpr":"'10' + ['⁰','⁻¹','⁻²','⁻³','⁻⁴','⁻⁵','⁻⁶','⁻⁷','⁻⁸','⁻⁹','⁻¹⁰'][round(-log(datum.value)/LN10)]","title":"PSD (N²)","labelFontSize":11}},"y2":{"datum":1e-10}}},
   {"data":{"name":"pk"},"transform":[{"filter":"datum.p=='cR'"}],"mark":{"type":"rule","color":"#0000ff","strokeWidth":1},"encoding":{"y":{"field":"v","type":"quantitative","scale":{"type":"log","domain":[1e-10,2e-4]},"axis":{"values":[1e-10,1e-8,1e-6,1e-4],"labelExpr":"'10' + ['⁰','⁻¹','⁻²','⁻³','⁻⁴','⁻⁵','⁻⁶','⁻⁷','⁻⁸','⁻⁹','⁻¹⁰'][round(-log(datum.value)/LN10)]","title":"PSD (N²)","labelFontSize":11}},"y2":{"datum":1e-10}}},
   {"data":{"name":"pk"},"transform":[{"filter":"datum.p=='cR' && datum.s==0"}],"mark":{"type":"circle","color":"#0000ff","size":25,"opacity":1},"encoding":{"y":{"field":"v","type":"quantitative","scale":{"type":"log","domain":[1e-10,2e-4]},"axis":{"values":[1e-10,1e-8,1e-6,1e-4],"labelExpr":"'10' + ['⁰','⁻¹','⁻²','⁻³','⁻⁴','⁻⁵','⁻⁶','⁻⁷','⁻⁸','⁻⁹','⁻¹⁰'][round(-log(datum.value)/LN10)]","title":"PSD (N²)","labelFontSize":11}}}}]},
  {"width":239,"height":38,"title":{"text":"(d)","dx":-1,"offset":-8},
   "encoding":{"x":{"field":"f","type":"quantitative","scale":{"domain":[0,500]},"axis":{"values":[0,50,100,150,200,250,300,350,400,450,500],"title":"Frequency (Hz)"}}},
   "layer":[
   {"data":{"name":"psd"},"mark":{"type":"area","color":"#ff0000"},"encoding":{"y":{"field":"dL","type":"quantitative","stack":null,"scale":{"type":"log","domain":[1e-10,2e-4]},"axis":{"values":[1e-10,1e-8,1e-6,1e-4],"labelExpr":"'10' + ['⁰','⁻¹','⁻²','⁻³','⁻⁴','⁻⁵','⁻⁶','⁻⁷','⁻⁸','⁻⁹','⁻¹⁰'][round(-log(datum.value)/LN10)]","title":"PSD (N²)","labelFontSize":11}},"y2":{"datum":1e-10}}},
   {"data":{"name":"pk"},"transform":[{"filter":"datum.p=='dL'"}],"mark":{"type":"rule","color":"#ff0000","strokeWidth":1},"encoding":{"y":{"field":"v","type":"quantitative","scale":{"type":"log","domain":[1e-10,2e-4]},"axis":{"values":[1e-10,1e-8,1e-6,1e-4],"labelExpr":"'10' + ['⁰','⁻¹','⁻²','⁻³','⁻⁴','⁻⁵','⁻⁶','⁻⁷','⁻⁸','⁻⁹','⁻¹⁰'][round(-log(datum.value)/LN10)]","title":"PSD (N²)","labelFontSize":11}},"y2":{"datum":1e-10}}},
   {"data":{"name":"pk"},"transform":[{"filter":"datum.p=='dL' && datum.s==0"}],"mark":{"type":"circle","color":"#ff0000","size":25,"opacity":1},"encoding":{"y":{"field":"v","type":"quantitative","scale":{"type":"log","domain":[1e-10,2e-4]},"axis":{"values":[1e-10,1e-8,1e-6,1e-4],"labelExpr":"'10' + ['⁰','⁻¹','⁻²','⁻³','⁻⁴','⁻⁵','⁻⁶','⁻⁷','⁻⁸','⁻⁹','⁻¹⁰'][round(-log(datum.value)/LN10)]","title":"PSD (N²)","labelFontSize":11}}}}]},
  {"width":238,"height":38,
   "encoding":{"x":{"field":"f","type":"quantitative","scale":{"domain":[0,500]},"axis":{"values":[0,50,100,150,200,250,300,350,400,450,500],"title":"Frequency (Hz)"}}},
   "layer":[
   {"data":{"name":"psd"},"mark":{"type":"area","color":"#0000ff"},"encoding":{"y":{"field":"dR","type":"quantitative","stack":null,"scale":{"type":"log","domain":[1e-10,2e-4]},"axis":{"values":[1e-10,1e-8,1e-6,1e-4],"labelExpr":"'10' + ['⁰','⁻¹','⁻²','⁻³','⁻⁴','⁻⁵','⁻⁶','⁻⁷','⁻⁸','⁻⁹','⁻¹⁰'][round(-log(datum.value)/LN10)]","title":"PSD (N²)","labelFontSize":11}},"y2":{"datum":1e-10}}},
   {"data":{"name":"pk"},"transform":[{"filter":"datum.p=='dR'"}],"mark":{"type":"rule","color":"#0000ff","strokeWidth":1},"encoding":{"y":{"field":"v","type":"quantitative","scale":{"type":"log","domain":[1e-10,2e-4]},"axis":{"values":[1e-10,1e-8,1e-6,1e-4],"labelExpr":"'10' + ['⁰','⁻¹','⁻²','⁻³','⁻⁴','⁻⁵','⁻⁶','⁻⁷','⁻⁸','⁻⁹','⁻¹⁰'][round(-log(datum.value)/LN10)]","title":"PSD (N²)","labelFontSize":11}},"y2":{"datum":1e-10}}},
   {"data":{"name":"pk"},"transform":[{"filter":"datum.p=='dR' && datum.s==0"}],"mark":{"type":"circle","color":"#0000ff","size":25,"opacity":1},"encoding":{"y":{"field":"v","type":"quantitative","scale":{"type":"log","domain":[1e-10,2e-4]},"axis":{"values":[1e-10,1e-8,1e-6,1e-4],"labelExpr":"'10' + ['⁰','⁻¹','⁻²','⁻³','⁻⁴','⁻⁵','⁻⁶','⁻⁷','⁻⁸','⁻⁹','⁻¹⁰'][round(-log(datum.value)/LN10)]","title":"PSD (N²)","labelFontSize":11}}}}]},
  {"width":239,"height":38,"title":{"text":"(e)","dx":-1,"offset":-8},
   "encoding":{"x":{"field":"f","type":"quantitative","scale":{"domain":[0,500]},"axis":{"values":[0,50,100,150,200,250,300,350,400,450,500],"title":"Frequency (Hz)"}}},
   "layer":[
   {"data":{"name":"psd"},"mark":{"type":"area","color":"#ff0000"},"encoding":{"y":{"field":"eL","type":"quantitative","stack":null,"scale":{"type":"log","domain":[1e-10,2e-4]},"axis":{"values":[1e-10,1e-8,1e-6,1e-4],"labelExpr":"'10' + ['⁰','⁻¹','⁻²','⁻³','⁻⁴','⁻⁵','⁻⁶','⁻⁷','⁻⁸','⁻⁹','⁻¹⁰'][round(-log(datum.value)/LN10)]","title":"PSD (N²)","labelFontSize":11}},"y2":{"datum":1e-10}}},
   {"data":{"name":"pk"},"transform":[{"filter":"datum.p=='eL'"}],"mark":{"type":"rule","color":"#ff0000","strokeWidth":1},"encoding":{"y":{"field":"v","type":"quantitative","scale":{"type":"log","domain":[1e-10,2e-4]},"axis":{"values":[1e-10,1e-8,1e-6,1e-4],"labelExpr":"'10' + ['⁰','⁻¹','⁻²','⁻³','⁻⁴','⁻⁵','⁻⁶','⁻⁷','⁻⁸','⁻⁹','⁻¹⁰'][round(-log(datum.value)/LN10)]","title":"PSD (N²)","labelFontSize":11}},"y2":{"datum":1e-10}}},
   {"data":{"name":"pk"},"transform":[{"filter":"datum.p=='eL' && datum.s==0"}],"mark":{"type":"circle","color":"#ff0000","size":25,"opacity":1},"encoding":{"y":{"field":"v","type":"quantitative","scale":{"type":"log","domain":[1e-10,2e-4]},"axis":{"values":[1e-10,1e-8,1e-6,1e-4],"labelExpr":"'10' + ['⁰','⁻¹','⁻²','⁻³','⁻⁴','⁻⁵','⁻⁶','⁻⁷','⁻⁸','⁻⁹','⁻¹⁰'][round(-log(datum.value)/LN10)]","title":"PSD (N²)","labelFontSize":11}}}}]},
  {"width":238,"height":38,
   "encoding":{"x":{"field":"f","type":"quantitative","scale":{"domain":[0,500]},"axis":{"values":[0,50,100,150,200,250,300,350,400,450,500],"title":"Frequency (Hz)"}}},
   "layer":[
   {"data":{"name":"psd"},"mark":{"type":"area","color":"#0000ff"},"encoding":{"y":{"field":"eR","type":"quantitative","stack":null,"scale":{"type":"log","domain":[1e-10,2e-4]},"axis":{"values":[1e-10,1e-8,1e-6,1e-4],"labelExpr":"'10' + ['⁰','⁻¹','⁻²','⁻³','⁻⁴','⁻⁵','⁻⁶','⁻⁷','⁻⁸','⁻⁹','⁻¹⁰'][round(-log(datum.value)/LN10)]","title":"PSD (N²)","labelFontSize":11}},"y2":{"datum":1e-10}}},
   {"data":{"name":"pk"},"transform":[{"filter":"datum.p=='eR'"}],"mark":{"type":"rule","color":"#0000ff","strokeWidth":1},"encoding":{"y":{"field":"v","type":"quantitative","scale":{"type":"log","domain":[1e-10,2e-4]},"axis":{"values":[1e-10,1e-8,1e-6,1e-4],"labelExpr":"'10' + ['⁰','⁻¹','⁻²','⁻³','⁻⁴','⁻⁵','⁻⁶','⁻⁷','⁻⁸','⁻⁹','⁻¹⁰'][round(-log(datum.value)/LN10)]","title":"PSD (N²)","labelFontSize":11}},"y2":{"datum":1e-10}}},
   {"data":{"name":"pk"},"transform":[{"filter":"datum.p=='eR' && datum.s==0"}],"mark":{"type":"circle","color":"#0000ff","size":25,"opacity":1},"encoding":{"y":{"field":"v","type":"quantitative","scale":{"type":"log","domain":[1e-10,2e-4]},"axis":{"values":[1e-10,1e-8,1e-6,1e-4],"labelExpr":"'10' + ['⁰','⁻¹','⁻²','⁻³','⁻⁴','⁻⁵','⁻⁶','⁻⁷','⁻⁸','⁻⁹','⁻¹⁰'][round(-log(datum.value)/LN10)]","title":"PSD (N²)","labelFontSize":11}}}}]},
  {"width":239,"height":38,"title":{"text":"(f)","dx":-1,"offset":-8},
   "encoding":{"x":{"field":"f","type":"quantitative","scale":{"domain":[0,500]},"axis":{"values":[0,50,100,150,200,250,300,350,400,450,500],"title":"Frequency (Hz)"}}},
   "layer":[
   {"data":{"name":"psd"},"mark":{"type":"area","color":"#ff0000"},"encoding":{"y":{"field":"fL","type":"quantitative","stack":null,"scale":{"type":"log","domain":[1e-10,2e-4]},"axis":{"values":[1e-10,1e-8,1e-6,1e-4],"labelExpr":"'10' + ['⁰','⁻¹','⁻²','⁻³','⁻⁴','⁻⁵','⁻⁶','⁻⁷','⁻⁸','⁻⁹','⁻¹⁰'][round(-log(datum.value)/LN10)]","title":"PSD (N²)","labelFontSize":11}},"y2":{"datum":1e-10}}},
   {"data":{"name":"pk"},"transform":[{"filter":"datum.p=='fL'"}],"mark":{"type":"rule","color":"#ff0000","strokeWidth":1},"encoding":{"y":{"field":"v","type":"quantitative","scale":{"type":"log","domain":[1e-10,2e-4]},"axis":{"values":[1e-10,1e-8,1e-6,1e-4],"labelExpr":"'10' + ['⁰','⁻¹','⁻²','⁻³','⁻⁴','⁻⁵','⁻⁶','⁻⁷','⁻⁸','⁻⁹','⁻¹⁰'][round(-log(datum.value)/LN10)]","title":"PSD (N²)","labelFontSize":11}},"y2":{"datum":1e-10}}},
   {"data":{"name":"pk"},"transform":[{"filter":"datum.p=='fL' && datum.s==0"}],"mark":{"type":"circle","color":"#ff0000","size":25,"opacity":1},"encoding":{"y":{"field":"v","type":"quantitative","scale":{"type":"log","domain":[1e-10,2e-4]},"axis":{"values":[1e-10,1e-8,1e-6,1e-4],"labelExpr":"'10' + ['⁰','⁻¹','⁻²','⁻³','⁻⁴','⁻⁵','⁻⁶','⁻⁷','⁻⁸','⁻⁹','⁻¹⁰'][round(-log(datum.value)/LN10)]","title":"PSD (N²)","labelFontSize":11}}}}]},
  {"width":238,"height":38,
   "encoding":{"x":{"field":"f","type":"quantitative","scale":{"domain":[0,500]},"axis":{"values":[0,50,100,150,200,250,300,350,400,450,500],"title":"Frequency (Hz)"}}},
   "layer":[
   {"data":{"name":"psd"},"mark":{"type":"area","color":"#0000ff"},"encoding":{"y":{"field":"fR","type":"quantitative","stack":null,"scale":{"type":"log","domain":[1e-10,2e-4]},"axis":{"values":[1e-10,1e-8,1e-6,1e-4],"labelExpr":"'10' + ['⁰','⁻¹','⁻²','⁻³','⁻⁴','⁻⁵','⁻⁶','⁻⁷','⁻⁸','⁻⁹','⁻¹⁰'][round(-log(datum.value)/LN10)]","title":"PSD (N²)","labelFontSize":11}},"y2":{"datum":1e-10}}},
   {"data":{"name":"pk"},"transform":[{"filter":"datum.p=='fR'"}],"mark":{"type":"rule","color":"#0000ff","strokeWidth":1},"encoding":{"y":{"field":"v","type":"quantitative","scale":{"type":"log","domain":[1e-10,2e-4]},"axis":{"values":[1e-10,1e-8,1e-6,1e-4],"labelExpr":"'10' + ['⁰','⁻¹','⁻²','⁻³','⁻⁴','⁻⁵','⁻⁶','⁻⁷','⁻⁸','⁻⁹','⁻¹⁰'][round(-log(datum.value)/LN10)]","title":"PSD (N²)","labelFontSize":11}},"y2":{"datum":1e-10}}},
   {"data":{"name":"pk"},"transform":[{"filter":"datum.p=='fR' && datum.s==0"}],"mark":{"type":"circle","color":"#0000ff","size":25,"opacity":1},"encoding":{"y":{"field":"v","type":"quantitative","scale":{"type":"log","domain":[1e-10,2e-4]},"axis":{"values":[1e-10,1e-8,1e-6,1e-4],"labelExpr":"'10' + ['⁰','⁻¹','⁻²','⁻³','⁻⁴','⁻⁵','⁻⁶','⁻⁷','⁻⁸','⁻⁹','⁻¹⁰'][round(-log(datum.value)/LN10)]","title":"PSD (N²)","labelFontSize":11}}}}]},
  {"width":239,"height":38,"title":{"text":"(g)","dx":-1,"offset":-8},
   "encoding":{"x":{"field":"f","type":"quantitative","scale":{"domain":[0,500]},"axis":{"values":[0,50,100,150,200,250,300,350,400,450,500],"title":"Frequency (Hz)"}}},
   "layer":[
   {"data":{"name":"psd"},"mark":{"type":"area","color":"#ff0000","opacity":0.6},"encoding":{"y":{"field":"gL","type":"quantitative","stack":null,"scale":{"type":"log","domain":[1e-8,3e-2]},"axis":{"values":[1e-8,1e-6,1e-4,1e-2],"labelExpr":"'10' + ['⁰','⁻¹','⁻²','⁻³','⁻⁴','⁻⁵','⁻⁶','⁻⁷','⁻⁸','⁻⁹','⁻¹⁰'][round(-log(datum.value)/LN10)]","title":"PSD (N²)","labelFontSize":11}},"y2":{"datum":1e-8}}},
   {"data":{"name":"pk"},"transform":[{"filter":"datum.p=='gL'"}],"mark":{"type":"circle","color":"#ff0000","size":25,"opacity":1},"encoding":{"y":{"field":"v","type":"quantitative","scale":{"type":"log","domain":[1e-8,3e-2]},"axis":{"values":[1e-8,1e-6,1e-4,1e-2],"labelExpr":"'10' + ['⁰','⁻¹','⁻²','⁻³','⁻⁴','⁻⁵','⁻⁶','⁻⁷','⁻⁸','⁻⁹','⁻¹⁰'][round(-log(datum.value)/LN10)]","title":"PSD (N²)","labelFontSize":11}}}}]},
  {"width":238,"height":38,
   "encoding":{"x":{"field":"f","type":"quantitative","scale":{"domain":[0,500]},"axis":{"values":[0,50,100,150,200,250,300,350,400,450,500],"title":"Frequency (Hz)"}}},
   "layer":[
   {"data":{"name":"psd"},"mark":{"type":"area","color":"#0000ff","opacity":0.6},"encoding":{"y":{"field":"gR","type":"quantitative","stack":null,"scale":{"type":"log","domain":[1e-9,3e-3]},"axis":{"values":[1e-9,1e-7,1e-5,1e-3],"labelExpr":"'10' + ['⁰','⁻¹','⁻²','⁻³','⁻⁴','⁻⁵','⁻⁶','⁻⁷','⁻⁸','⁻⁹','⁻¹⁰'][round(-log(datum.value)/LN10)]","title":"PSD (N²)","labelFontSize":11}},"y2":{"datum":1e-9}}},
   {"data":{"name":"pk"},"transform":[{"filter":"datum.p=='gR'"}],"mark":{"type":"circle","color":"#0000ff","size":25,"opacity":1},"encoding":{"y":{"field":"v","type":"quantitative","scale":{"type":"log","domain":[1e-9,3e-3]},"axis":{"values":[1e-9,1e-7,1e-5,1e-3],"labelExpr":"'10' + ['⁰','⁻¹','⁻²','⁻³','⁻⁴','⁻⁵','⁻⁶','⁻⁷','⁻⁸','⁻⁹','⁻¹⁰'][round(-log(datum.value)/LN10)]","title":"PSD (N²)","labelFontSize":11}}}}]}
 ]}
]
}
